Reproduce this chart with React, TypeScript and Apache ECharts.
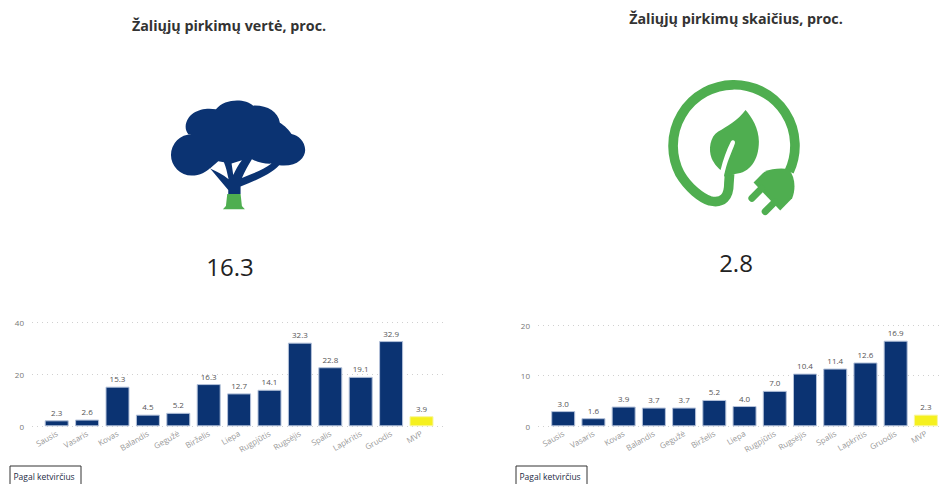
import React, { useEffect, useRef } from "react";
import * as echarts from "echarts";

const months = ["Sausis", "Vasaris", "Kovas", "Balandis", "Gegužė", "Birželis", "Liepa", "Rugpjūtis", "Rugsėjis", "Spalis", "Lapkritis", "Gruodis", "MVP"];
const valueShare = [2.3, 2.6, 15.3, 4.5, 5.2, 16.3, 12.7, 14.1, 32.3, 22.8, 19.1, 32.9, 3.9];
const countShare = [3.0, 1.6, 3.9, 3.7, 3.7, 5.2, 4.0, 7.0, 10.4, 11.4, 12.6, 16.9, 2.3];
const titles = ["Žaliųjų pirkimų vertė, proc.", "Žaliųjų pirkimų skaičius, proc."];
const bigValues = ["16.3", "2.8"];
const filterLabel = "Pagal ketvirčius";

const NAVY = "#0b3372";
const GREEN = "#4fae50";
const FONT = "'Open Sans', sans-serif";

echarts.graphic.registerShape("treeCrown", echarts.graphic.extendPath(
  "M125 133 A62 62 0 0 0 125 257 C150 257 170 245 180 235 L235 300 L235 312 L272 312 L272 290 C320 270 360 255 388 226 C440 232 466 205 466 180 C466 155 445 135 425 132 C410 110 400 105 390 98 C385 65 350 45 310 47 C285 25 225 25 198 58 C160 50 110 65 107 110 C107 120 110 125 115 133 Z", {}));
echarts.graphic.registerShape("treeGapA", echarts.graphic.extendPath(
  "M205 214 L180 236 C200 245 220 255 236 268 C232 250 228 230 222 217 Z", {}));
echarts.graphic.registerShape("treeGapB", echarts.graphic.extendPath(
  "M245 221 L276 211 C265 225 257 240 250 255 Z", {}));
echarts.graphic.registerShape("treeGapC", echarts.graphic.extendPath(
  "M306 208 C325 218 345 222 365 221 C340 240 310 250 276 264 C285 245 295 225 306 208 Z", {}));
echarts.graphic.registerShape("treeFoot", echarts.graphic.extendPath(
  "M232 312 L272 312 L276 348 L285 358 L219 358 L228 348 Z", {}));
echarts.graphic.registerShape("plugCord", echarts.graphic.extendPath(
  "M403 305 A183 183 0 1 0 75 312 C100 355 140 385 165 393 C205 402 222 380 222 340 L224 312", {}));
echarts.graphic.registerShape("plugLeaf", echarts.graphic.extendPath(
  "M272 120 C250 150 215 170 190 185 C165 200 160 240 170 265 C178 283 190 295 197 300 C205 270 215 240 228 215 C232 208 242 210 240 220 C232 245 215 275 207 320 L240 312 C285 310 312 270 312 215 C312 175 290 140 272 120 Z", {}));
echarts.graphic.registerShape("plugHead", echarts.graphic.extendPath(
  "M296 338 L328 306 C350 296 380 294 402 298 C420 320 424 355 412 385 L376 422 Z", {}));
echarts.graphic.registerShape("plugPins", echarts.graphic.extendPath(
  "M291 385 L320 356 M331 425 L360 396", {}));

function panel(i: number, values: number[], max: number, interval: number, barLeft: number, lineLeft: number, lineWidth: number, top: number) {
  const bottom = 484 - 426.3;
  const barGrid = i * 2;
  const lineGrid = i * 2 + 1;
  return {
    grid: [
      { left: barLeft, width: 395.2, top, bottom, containLabel: false },
      { left: lineLeft, width: lineWidth, top, bottom, containLabel: false },
    ],
    xAxis: [
      {
        type: "category", gridIndex: barGrid, data: months,
        axisLine: { show: false }, axisTick: { show: false },
        axisLabel: { interval: 0, rotate: 30, fontSize: 8, color: "#999", fontFamily: FONT, margin: 6 },
      },
      { type: "category", gridIndex: lineGrid, data: months, show: false },
    ],
    yAxis: [
      { type: "value", gridIndex: barGrid, min: 0, max, interval, show: false, splitLine: { show: false } },
      {
        type: "value", gridIndex: lineGrid, min: 0, max, interval,
        axisLine: { show: false }, axisTick: { show: false },
        axisLabel: { fontSize: 8, color: "#777", fontFamily: FONT, margin: 8 },
        splitLine: { show: true, lineStyle: { type: [1, 4], color: "#d0d0d0", width: 1 } },
      },
    ],
    series: {
      type: "bar", xAxisIndex: barGrid, yAxisIndex: barGrid, barWidth: 24,
      data: values.map((v, k) => ({
        value: v,
        itemStyle: { color: months[k] === "MVP" ? "#f5f01e" : NAVY, borderColor: months[k] === "MVP" ? "#f8f6a0" : "#b4c2da", borderWidth: 1 },
      })),
      label: { show: true, position: "top", distance: 4, fontSize: 8, color: "#555", fontFamily: FONT, formatter: (p: any) => p.value.toFixed(1) },
    },
  };
}

function filterBox(x: number) {
  return [
    { type: "polyline", shape: { points: [[x, 484], [x, 466], [x + 71, 466], [x + 71, 484]] }, style: { stroke: "#333", fill: "none", lineWidth: 1 } },
    { type: "text", x: x + 3.5, y: 476.5, style: { text: filterLabel, fontSize: 8.5, fontFamily: FONT, fill: "#1c2a44", textVerticalAlign: "middle" } },
  ];
}

export default function App() {
  const ref = useRef<HTMLDivElement>(null);
  useEffect(() => {
    document.body.style.margin = "0";
    const chart = echarts.init(ref.current!, undefined, { renderer: "svg" });
    const a = panel(0, valueShare, 40, 20, 41.5, 32, 413, 322.7);
    const b = panel(1, countShare, 20, 10, 548.1, 538, 410, 325);
    const tree = { x: 150, y: 90, scaleX: 1 / 3, scaleY: 1 / 3 };
    const plug = { x: 655, y: 70, scaleX: 1 / 3, scaleY: 1 / 3 };
    chart.setOption({
      animation: false,
      backgroundColor: "#fff",
      grid: [...a.grid, ...b.grid],
      xAxis: [...a.xAxis, ...b.xAxis],
      yAxis: [...a.yAxis, ...b.yAxis],
      series: [a.series, b.series],
      graphic: [
        { type: "text", x: 229, y: 25, style: { text: titles[0], fontSize: 14.3, fontWeight: "bold", fontFamily: FONT, fill: "#333", textAlign: "center", textVerticalAlign: "middle" } },
        { type: "text", x: 736, y: 18, style: { text: titles[1], fontSize: 14.3, fontWeight: "bold", fontFamily: FONT, fill: "#333", textAlign: "center", textVerticalAlign: "middle" } },
        { type: "text", x: 230, y: 266, style: { text: bigValues[0], fontSize: 24, fontFamily: FONT, fill: "#222", textAlign: "center", textVerticalAlign: "middle" } },
        { type: "text", x: 736, y: 262, style: { text: bigValues[1], fontSize: 24, fontFamily: FONT, fill: "#222", textAlign: "center", textVerticalAlign: "middle" } },
        { type: "treeCrown", ...tree, style: { fill: NAVY } },
        { type: "treeGapA", ...tree, style: { fill: "#fff" } },
        { type: "treeGapB", ...tree, style: { fill: "#fff" } },
        { type: "treeGapC", ...tree, style: { fill: "#fff" } },
        { type: "treeFoot", ...tree, style: { fill: GREEN } },
        { type: "plugCord", ...plug, style: { fill: "none", stroke: GREEN, lineWidth: 29 } },
        { type: "plugLeaf", ...plug, style: { fill: GREEN } },
        { type: "plugHead", ...plug, style: { fill: GREEN } },
        { type: "plugPins", ...plug, style: { fill: "none", stroke: GREEN, lineWidth: 21, lineCap: "round" } },
        ...filterBox(10),
        ...filterBox(516),
      ],
    });
    return () => chart.dispose();
  }, []);
  return <div ref={ref} style={{ width: 941, height: 484 }} />;
}
